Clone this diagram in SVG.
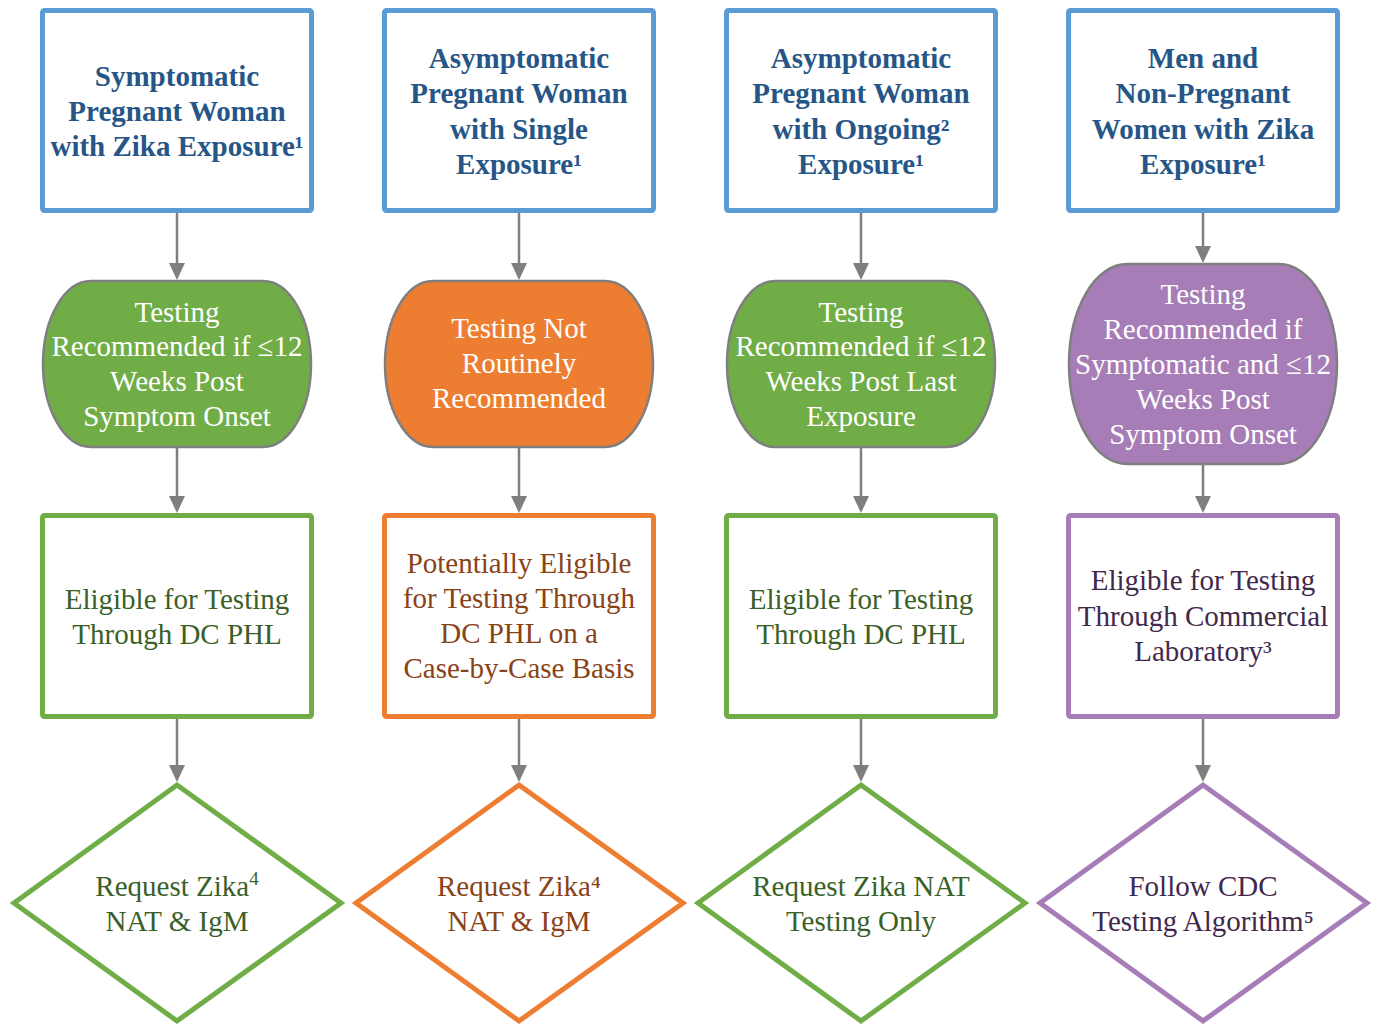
<svg xmlns="http://www.w3.org/2000/svg" width="1374" height="1026" viewBox="0 0 1374 1026">
<style>
text{font-family:"Liberation Serif","Times New Roman",serif;font-size:29px;text-anchor:middle}
.t{font-weight:bold;fill:#265687}
.w{fill:#ffffff}
.g{fill:#3A5F28}
.o{fill:#8A4217}
.p{fill:#41294C}
.top{fill:#fff;stroke:#5B9BD5;stroke-width:5}
.gbox{fill:#fff;stroke:#70AD47;stroke-width:5}
.obox{fill:#fff;stroke:#ED7D31;stroke-width:5}
.pbox{fill:#fff;stroke:#A67DB6;stroke-width:5}
.st{stroke:#7F7F7F;stroke-width:2.5}
.conn line{stroke:#7F7F7F;stroke-width:2.5;marker-end:url(#ah)}
</style>
<defs>
<marker id="ah" markerUnits="userSpaceOnUse" markerWidth="17" markerHeight="16" refX="8" refY="8" orient="auto" viewBox="0 0 17 16">
<path d="M0,0 L17,8 L0,16 Z" fill="#7F7F7F"/>
</marker>
</defs>
<rect width="1374" height="1026" fill="#fff"/>

<g id="connectors" class="conn">
<line x1="177" y1="213" x2="177" y2="271"/>
<line x1="177" y1="448" x2="177" y2="504"/>
<line x1="177" y1="719" x2="177" y2="773"/>
<line x1="519" y1="213" x2="519" y2="271"/>
<line x1="519" y1="448" x2="519" y2="504"/>
<line x1="519" y1="719" x2="519" y2="773"/>
<line x1="861" y1="213" x2="861" y2="271"/>
<line x1="861" y1="448" x2="861" y2="504"/>
<line x1="861" y1="719" x2="861" y2="773"/>
<line x1="1203" y1="213" x2="1203" y2="254"/>
<line x1="1203" y1="465" x2="1203" y2="504"/>
<line x1="1203" y1="719" x2="1203" y2="773"/>
</g>

<!-- Column 1 -->
<g id="c1-top">
<rect class="top" x="42.5" y="10.5" width="269" height="200" rx="2"/>
<text class="t" x="177" y="86">Symptomatic</text>
<text class="t" x="177" y="121">Pregnant Woman</text>
<text class="t" x="177" y="156">with Zika Exposure¹</text>
</g>
<g id="c1-rec">
<rect class="st" fill="#70AD47" x="43" y="281" width="268" height="166" rx="48" ry="83"/>
<text class="w" x="177" y="322">Testing</text>
<text class="w" x="177" y="356">Recommended if ≤12</text>
<text class="w" x="177" y="391">Weeks Post</text>
<text class="w" x="177" y="426">Symptom Onset</text>
</g>
<g id="c1-elig">
<rect class="gbox" x="42.5" y="515.5" width="269" height="201" rx="2"/>
<text class="g" x="177" y="609">Eligible for Testing</text>
<text class="g" x="177" y="644">Through DC PHL</text>
</g>
<g id="c1-req">
<polygon class="gbox" points="177,785 341,903 177,1021 14,903"/>
<text class="g" x="177" y="896">Request Zika<tspan font-size="19" dy="-11">4</tspan></text>
<text class="g" x="177" y="931">NAT &amp; IgM</text>
</g>

<!-- Column 2 -->
<g id="c2-top">
<rect class="top" x="384.5" y="10.5" width="269" height="200" rx="2"/>
<text class="t" x="519" y="68">Asymptomatic</text>
<text class="t" x="519" y="103">Pregnant Woman</text>
<text class="t" x="519" y="139">with Single</text>
<text class="t" x="519" y="174">Exposure¹</text>
</g>
<g id="c2-rec">
<rect class="st" fill="#ED7D31" x="385" y="281" width="268" height="166" rx="48" ry="83"/>
<text class="w" x="519" y="338">Testing Not</text>
<text class="w" x="519" y="373">Routinely</text>
<text class="w" x="519" y="408">Recommended</text>
</g>
<g id="c2-elig">
<rect class="obox" x="384.5" y="515.5" width="269" height="201" rx="2"/>
<text class="o" x="519" y="573">Potentially Eligible</text>
<text class="o" x="519" y="608">for Testing Through</text>
<text class="o" x="519" y="643">DC PHL on a</text>
<text class="o" x="519" y="678">Case-by-Case Basis</text>
</g>
<g id="c2-req">
<polygon class="obox" points="519,785 683,903 519,1021 356,903"/>
<text class="o" x="519" y="896">Request Zika⁴</text>
<text class="o" x="519" y="931">NAT &amp; IgM</text>
</g>

<!-- Column 3 -->
<g id="c3-top">
<rect class="top" x="726.5" y="10.5" width="269" height="200" rx="2"/>
<text class="t" x="861" y="68">Asymptomatic</text>
<text class="t" x="861" y="103">Pregnant Woman</text>
<text class="t" x="861" y="139">with Ongoing²</text>
<text class="t" x="861" y="174">Exposure¹</text>
</g>
<g id="c3-rec">
<rect class="st" fill="#70AD47" x="727" y="281" width="268" height="166" rx="48" ry="83"/>
<text class="w" x="861" y="322">Testing</text>
<text class="w" x="861" y="356">Recommended if ≤12</text>
<text class="w" x="861" y="391">Weeks Post Last</text>
<text class="w" x="861" y="426">Exposure</text>
</g>
<g id="c3-elig">
<rect class="gbox" x="726.5" y="515.5" width="269" height="201" rx="2"/>
<text class="g" x="861" y="609">Eligible for Testing</text>
<text class="g" x="861" y="644">Through DC PHL</text>
</g>
<g id="c3-req">
<polygon class="gbox" points="861,785 1025,903 861,1021 698,903"/>
<text class="g" x="861" y="896">Request Zika NAT</text>
<text class="g" x="861" y="931">Testing Only</text>
</g>

<!-- Column 4 -->
<g id="c4-top">
<rect class="top" x="1068.5" y="10.5" width="269" height="200" rx="2"/>
<text class="t" x="1203" y="68">Men and</text>
<text class="t" x="1203" y="103">Non-Pregnant</text>
<text class="t" x="1203" y="139">Women with Zika</text>
<text class="t" x="1203" y="174">Exposure¹</text>
</g>
<g id="c4-rec">
<rect class="st" fill="#A67DB6" x="1069" y="264" width="268" height="200" rx="58" ry="100"/>
<text class="w" x="1203" y="304">Testing</text>
<text class="w" x="1203" y="339">Recommended if</text>
<text class="w" x="1203" y="374">Symptomatic and ≤12</text>
<text class="w" x="1203" y="409">Weeks Post</text>
<text class="w" x="1203" y="444">Symptom Onset</text>
</g>
<g id="c4-elig">
<rect class="pbox" x="1068.5" y="515.5" width="269" height="201" rx="2"/>
<text class="p" x="1203" y="590">Eligible for Testing</text>
<text class="p" x="1203" y="626">Through Commercial</text>
<text class="p" x="1203" y="661">Laboratory³</text>
</g>
<g id="c4-req">
<polygon class="pbox" points="1203,785 1367,903 1203,1021 1040,903"/>
<text class="p" x="1203" y="896">Follow CDC</text>
<text class="p" x="1203" y="931">Testing Algorithm⁵</text>
</g>
</svg>
